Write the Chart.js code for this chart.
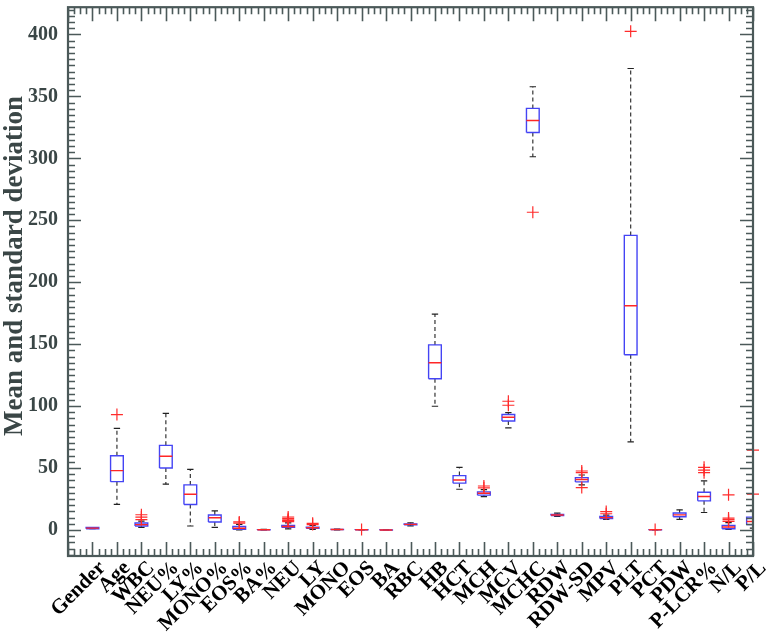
<!DOCTYPE html>
<html>
<head>
<meta charset="utf-8">
<script src="https://cdn.jsdelivr.net/npm/chart.js@4.4.0/dist/chart.umd.min.js"></script>
<style>
  html, body { margin: 0; padding: 0; background: #fff; }
  #wrap { width: 770px; height: 634px; }
</style>
</head>
<body>
<div id="wrap"><canvas id="boxChart" width="770" height="634"></canvas></div>
<script>
// Data
const categories = ['Gender', 'Age', 'WBC', 'NEU%', 'LY%', 'MONO%', 'EOS%', 'BA%', 'NEU', 'LY',
    'MONO', 'EOS', 'BA', 'RBC', 'HB', 'HCT', 'MCH', 'MCV', 'MCHC', 'RDW',
    'RDW-SD', 'MPV', 'PLT', 'PCT', 'PDW', 'P-LCR%', 'N/L', 'P/L'];

const whiskerLow  = [1, 20.6, 2.1, 37, 3.2, 2.1, 0, 0, 0.9, 0.4,
    0.1, 0, 0, 3.3, 99.9, 32.9, 27, 82.4, 301.3, 11,
    36.4, 8.6, 71.2, 0.1, 8.5, 14.1, 0.4, 1.5];
const q1          = [1, 39, 3.2, 50, 20.6, 6.4, 0.6, 0.1, 2.1, 1.3,
    0.3, 0.05, 0.01, 4.1, 122.1, 37.8, 28.1, 88, 320.8, 11.7,
    38.8, 9.3, 141.4, 0.17, 10.7, 23.5, 1, 4.3];
const medians     = [1.5, 47.9, 4.3, 59.5, 28.9, 9.9, 1.4, 0.2, 2.8, 1.8,
    0.4, 0.1, 0.02, 4.5, 135, 40.4, 29.7, 91, 330.5, 12.1,
    40.7, 10, 181, 0.2, 12.2, 27, 2.4, 6.9];
const q3          = [2, 59.9, 5.6, 68.3, 36.4, 12.1, 2.8, 0.3, 3.6, 2.3,
    0.5, 0.15, 0.03, 4.9, 149.4, 43.9, 30.8, 93.2, 340.3, 12.6,
    42.3, 10.9, 237.8, 0.24, 13.7, 30.5, 3.7, 10.4];
const whiskerHigh = [2, 82, 7.2, 94.2, 49, 15.5, 4.6, 0.6, 5.8, 3.6,
    0.8, 0.3, 0.05, 5.8, 174.3, 50.6, 32.5, 94.8, 357.8, 13.6,
    44.4, 12, 372.5, 0.3, 16.3, 39.6, 6, 16];
const outliers = [[], [93.2], [8.3, 10.4, 12.3], [], [], [], [5.6, 6.5], [], [6.7, 7.5, 8.2, 9.3, 10.5], [4.4, 5.4],
    [], [0.4], [], [], [], [], [34, 35.5], [100.7, 103.9], [256.5], [],
    [34.2, 46.3, 47.6], [13.1, 14.9], [402.5], [0.4], [], [46.3, 48.4, 50.6], [6.9, 8.3, 9.6, 28.4], [28.9, 64.5]];

const yTicks = [0, 50, 100, 150, 200, 250, 300, 350, 400];
const yTitle = 'Mean and standard deviation';

const axisColor = '#4b5959';
const boxHalf = 0.26;
const capHalf = 0.13;

// Build line pieces (null y breaks the line)
const boxPts = [], medPts = [], whiskerPts = [], capPts = [], outPts = [];
categories.forEach((c, i) => {
    const x = i + 1;
    boxPts.push({x: x - boxHalf, y: q1[i]}, {x: x + boxHalf, y: q1[i]}, {x: x + boxHalf, y: q3[i]},
        {x: x - boxHalf, y: q3[i]}, {x: x - boxHalf, y: q1[i]}, {x: x, y: null});
    medPts.push({x: x - boxHalf, y: medians[i]}, {x: x + boxHalf, y: medians[i]}, {x: x, y: null});
    whiskerPts.push({x: x, y: q3[i]}, {x: x, y: whiskerHigh[i]}, {x: x, y: null},
        {x: x, y: q1[i]}, {x: x, y: whiskerLow[i]}, {x: x, y: null});
    capPts.push({x: x - capHalf, y: whiskerHigh[i]}, {x: x + capHalf, y: whiskerHigh[i]}, {x: x, y: null},
        {x: x - capHalf, y: whiskerLow[i]}, {x: x + capHalf, y: whiskerLow[i]}, {x: x, y: null});
    outliers[i].forEach(v => outPts.push({x: x, y: v}));
});

// Frame with inward ticks on all four sides, plus the y title
const frameTicks = {
    id: 'frameTicks',
    afterDraw(chart) {
        const {ctx, chartArea: a, scales: {x, y}} = chart;
        ctx.save();
        ctx.strokeStyle = axisColor;
        ctx.lineWidth = 1.6;
        ctx.beginPath();
        for (let v = -20; v <= 420; v += 5) {
            const py = Math.round(y.getPixelForValue(v)) + 0.5;
            if (py < a.top || py > a.bottom) continue;
            const len = v % 50 === 0 ? 13 : 7;
            ctx.moveTo(a.left, py); ctx.lineTo(a.left + len, py);
            ctx.moveTo(a.right, py); ctx.lineTo(a.right - len, py);
        }
        for (let k = 0; k <= categories.length * 4; k++) {
            const px = Math.round(x.getPixelForValue(k / 4)) + 0.5;
            const len = k % 4 === 0 ? 14 : 7;
            ctx.moveTo(px, a.bottom); ctx.lineTo(px, a.bottom - len);
            ctx.moveTo(px, a.top); ctx.lineTo(px, a.top + len);
        }
        ctx.stroke();
        ctx.lineWidth = 2.2;
        ctx.strokeRect(a.left, a.top, a.right - a.left, a.bottom - a.top);

        // y axis title
        ctx.translate(15, 266);
        ctx.rotate(-Math.PI / 2);
        ctx.fillStyle = '#3a4646';
        ctx.font = 'bold 27px "Liberation Serif"';
        ctx.textAlign = 'center';
        ctx.textBaseline = 'middle';
        ctx.fillText(yTitle, 0, 0);
        ctx.restore();
    }
};

const lineSet = (data, color, width, dash) => ({
    type: 'scatter',
    data: data,
    showLine: true,
    spanGaps: false,
    borderColor: color,
    borderWidth: width,
    borderDash: dash || [],
    pointRadius: 0,
    pointHoverRadius: 0
});

new Chart(document.getElementById('boxChart'), {
    type: 'scatter',
    data: {
        datasets: [
            {
                data: outPts,
                pointStyle: 'cross',
                pointRadius: 6,
                borderColor: '#ff2b2b',
                borderWidth: 1.2,
                showLine: false,
                clip: false
            },
            lineSet(medPts, '#ff2626', 1.4),
            lineSet(boxPts, '#4444f4', 1.4),
            lineSet(capPts, '#222222', 1.2),
            lineSet(whiskerPts, '#333333', 1.2, [4, 3])
        ]
    },
    options: {
        responsive: false,
        animation: false,
        devicePixelRatio: 1,
        layout: { padding: { top: 5, right: 17, left: 0, bottom: 0 } },
        plugins: { legend: { display: false }, tooltip: { enabled: false } },
        scales: {
            x: {
                type: 'linear',
                min: 0,
                max: categories.length,
                grid: { display: false, drawTicks: false },
                border: { display: false },
                afterBuildTicks: axis => { axis.ticks = categories.map((c, i) => ({value: i + 1})); },
                afterFit: scale => { scale.height = 78; scale.paddingLeft = 0; scale.paddingRight = 0; },
                ticks: {
                    autoSkip: false,
                    minRotation: 45,
                    maxRotation: 45,
                    padding: 0,
                    labelOffset: 10,
                    color: '#000',
                    font: { family: 'Liberation Serif', size: 21, weight: 'bold' },
                    callback: v => categories[v - 1] || ''
                }
            },
            y: {
                min: -21,
                max: 422,
                grid: { display: false, drawTicks: false },
                border: { display: false },
                afterBuildTicks: axis => { axis.ticks = yTicks.map(v => ({value: v})); },
                afterFit: scale => { scale.width = 68; scale.paddingTop = 0; scale.paddingBottom = 0; },
                ticks: {
                    padding: 10,
                    color: '#3a4646',
                    font: { family: 'Liberation Serif', size: 20, weight: 'bold' }
                }
            }
        }
    },
    plugins: [frameTicks]
});
</script>
</body>
</html>
